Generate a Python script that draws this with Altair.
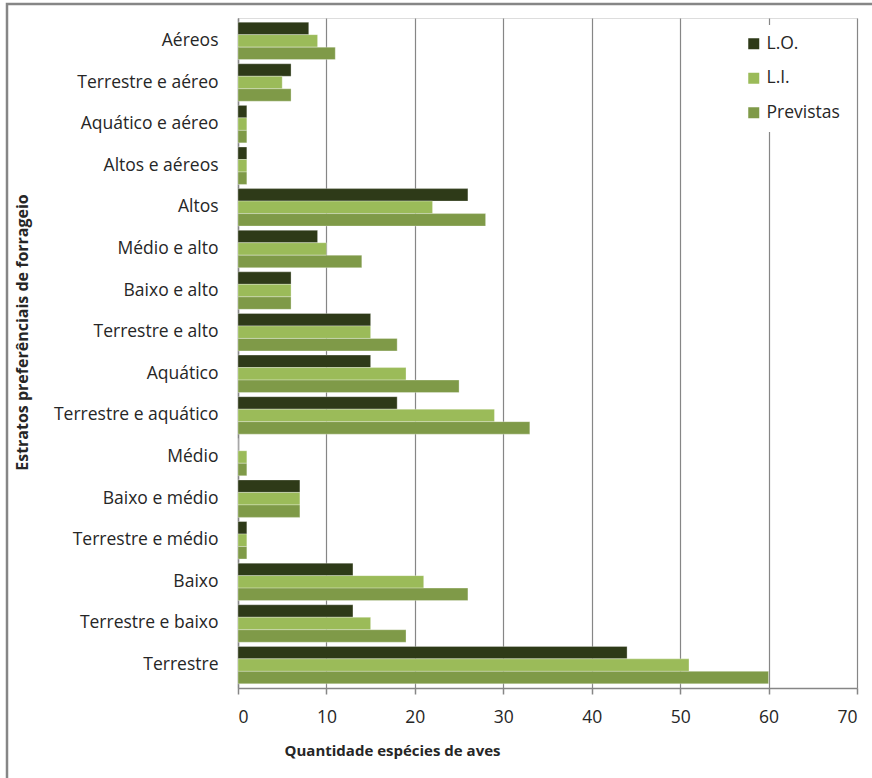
import altair as alt
import pandas as pd

# Foraging strata, top to bottom
categorias = [
    "Aéreos", "Terrestre e aéreo", "Aquático e aéreo", "Altos e aéreos", "Altos",
    "Médio e alto", "Baixo e alto", "Terrestre e alto", "Aquático",
    "Terrestre e aquático", "Médio", "Baixo e médio", "Terrestre e médio",
    "Baixo", "Terrestre e baixo", "Terrestre",
]
series = ["L.O.", "L.I.", "Previstas"]
lo = [8, 6, 1, 1, 26, 9, 6, 15, 15, 18, 0, 7, 1, 13, 13, 44]
li = [9, 5, 1, 1, 22, 10, 6, 15, 19, 29, 1, 7, 1, 21, 15, 51]
previstas = [11, 6, 1, 1, 28, 14, 6, 18, 25, 33, 1, 7, 1, 26, 19, 60]
cores = ["#2E3A18", "#9BBB59", "#7F9A48"]
ticks_x = [0, 10, 20, 30, 40, 50, 60, 70]

linhas = []
for serie, valores in zip(series, [lo, li, previstas]):
    for cat, v in zip(categorias, valores):
        linhas.append({"estrato": cat, "serie": serie, "valor": v})
df = pd.DataFrame(linhas)

FONT = "Open Sans"
GRAY = "#868686"
TXT = "#262626"
LBL = 17.5

barras = alt.Chart(df).mark_bar(
    stroke="#ffffff", strokeOpacity=0.5, strokeWidth=0.6
).encode(
    y=alt.Y(
        "estrato:N",
        sort=categorias,
        scale=alt.Scale(paddingInner=0.1, paddingOuter=0.1),
        axis=alt.Axis(
            title="Estratos preferênciais de forrageio",
            titleFont=FONT, titleFontSize=16, titleFontWeight="bold", titleColor=TXT,
            titleX=-216, titleY=314, titleAngle=-90, titleAlign="center",
            titleBaseline="middle",
            labelFont=FONT, labelFontSize=LBL, labelColor=TXT, labelPadding=20,
            labelLimit=300, ticks=False, domainColor=GRAY, domainWidth=1.5,
            grid=False,
        ),
    ),
    yOffset=alt.YOffset("serie:N", sort=series),
    x=alt.X(
        "valor:Q",
        scale=alt.Scale(domain=[0, 70], nice=False),
        axis=alt.Axis(
            values=ticks_x, title="Quantidade  espécies de aves",
            titleFont=FONT, titleFontSize=15, titleFontWeight="bold", titleColor=TXT,
            titleX=154, titleY=62, titleAlign="center", titleBaseline="middle",
            labelFont=FONT, labelFontSize=LBL, labelColor=TXT, labelPadding=14,
            tickColor=GRAY, tickSize=6, tickWidth=1.5,
            domainColor=GRAY, domainWidth=1.5,
            grid=True, gridColor=GRAY, gridWidth=1.2,
        ),
    ),
    color=alt.Color(
        "serie:N",
        sort=series,
        scale=alt.Scale(domain=series, range=cores),
        legend=alt.Legend(
            title=None, orient="none", legendX=497, legendY=7,
            fillColor="#ffffff", padding=10,
            symbolType="square", symbolSize=121, symbolStrokeWidth=0,
            labelFont=FONT, labelFontSize=LBL, labelColor=TXT,
            rowPadding=15.5, labelOffset=4,
        ),
    ),
)

# outer frame of the chart
moldura = alt.Chart(pd.DataFrame({"k": [0]})).mark_rect(
    fill=None, stroke=GRAY, strokeWidth=2.5
).encode(
    x=alt.value(-231), x2=alt.value(660),
    y=alt.value(-14), y2=alt.value(800),
)

chart = alt.layer(moldura, barras).properties(
    width=619, height=670,
    autosize=alt.AutoSizeParams(type="none"),
    padding={"left": 238, "top": 18, "right": 15, "bottom": 90},
).configure_view(stroke=None).configure(background="#ffffff")

chart.save("out.html", embed_options={"renderer": "svg", "actions": False})
